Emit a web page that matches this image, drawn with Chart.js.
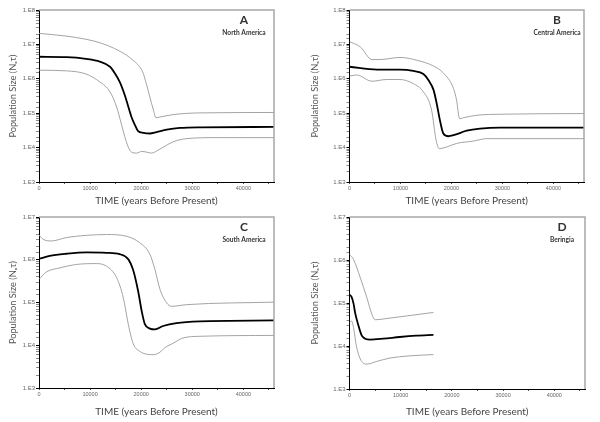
<!DOCTYPE html>
<html>
<head>
<meta charset="utf-8">
<script src="https://cdn.jsdelivr.net/npm/chart.js@4.4.0/dist/chart.umd.min.js"></script>
<style>
  html, body { margin: 0; padding: 0; background: #fff; }
  #wrap { position: relative; width: 600px; height: 422px; }
  canvas { position: absolute; }
</style>
</head>
<body>
<div id="wrap">
  <canvas id="chartA" width="300" height="211" style="left:0;top:0"></canvas>
  <canvas id="chartB" width="300" height="211" style="left:300px;top:0"></canvas>
  <canvas id="chartC" width="300" height="211" style="left:0;top:211px"></canvas>
  <canvas id="chartD" width="300" height="211" style="left:300px;top:211px"></canvas>
</div>
<script>
// A - North America
const timeA_mid = [0, 5400, 9200, 11900, 13900, 14800, 15800, 16800, 17500, 18100, 18800, 19400, 20400, 21700, 23000, 25000, 27600, 31500, 46000];
const sizeA_mid = [4.37e6, 4.27e6, 3.80e6, 3.16e6, 2.24e6, 1.48e6, 8.13e5, 3.31e5, 1.51e5, 7.76e4, 4.47e4, 3.02e4, 2.69e4, 2.57e4, 2.82e4, 3.31e4, 3.72e4, 3.89e4, 3.98e4];
const timeA_hi = [0, 5400, 9200, 11900, 14800, 17100, 18400, 19700, 20400, 21000, 21700, 22400, 22900, 23700, 26300, 31500, 46000];
const sizeA_hi = [2.09e7, 1.74e7, 1.41e7, 1.12e7, 7.59e6, 4.90e6, 3.47e6, 2.24e6, 1.45e6, 7.24e5, 2.95e5, 1.23e5, 7.41e4, 7.76e4, 9.12e4, 1.02e5, 1.05e5];
const timeA_lo = [0, 5400, 9200, 11900, 13900, 15200, 16100, 17000, 17500, 18100, 19100, 20100, 21000, 22000, 23700, 26300, 28900, 34800, 46000];
const sizeA_lo = [1.78e6, 1.70e6, 1.38e6, 8.13e5, 4.17e5, 1.51e5, 5.01e4, 1.62e4, 1.02e4, 7.41e3, 6.92e3, 7.76e3, 7.41e3, 6.92e3, 9.12e3, 1.48e4, 1.82e4, 1.95e4, 1.95e4];

// B - Central America
const timeB_mid = [0, 5400, 9900, 12500, 14500, 15500, 16500, 17100, 17800, 18400, 19400, 20400, 23000, 25600, 29500, 46000];
const sizeB_mid = [2.24e6, 1.86e6, 1.86e6, 1.70e6, 1.38e6, 9.12e5, 4.68e5, 1.91e5, 5.62e4, 2.57e4, 2.14e4, 2.29e4, 3.09e4, 3.55e4, 3.80e4, 3.80e4];
const timeB_hi = [0, 2100, 4400, 6000, 9900, 13200, 16500, 18400, 20400, 21000, 21600, 22400, 25000, 29500, 46000];
const sizeB_hi = [1.20e7, 8.51e6, 3.63e6, 3.63e6, 4.17e6, 3.47e6, 2.34e6, 1.48e6, 5.25e5, 2.40e5, 6.92e4, 7.41e4, 8.71e4, 9.33e4, 9.77e4];
const timeB_lo = [0, 1400, 4400, 7300, 9900, 12500, 14500, 16100, 17000, 17600, 19100, 21000, 24300, 26900, 46000];
const sizeB_lo = [1.20e6, 1.29e6, 8.51e5, 9.55e5, 9.55e5, 7.24e5, 4.17e5, 1.23e5, 1.62e4, 9.33e3, 1.05e4, 1.32e4, 1.55e4, 1.82e4, 1.82e4];

// C - South America
const timeC_mid = [0, 2100, 5400, 9300, 13200, 15800, 17500, 18400, 19400, 20100, 20700, 21700, 22700, 24300, 26900, 31500, 46000];
const sizeC_mid = [1.05e6, 1.23e6, 1.38e6, 1.48e6, 1.45e6, 1.35e6, 1.02e6, 5.89e5, 1.86e5, 6.31e4, 3.16e4, 2.45e4, 2.34e4, 2.82e4, 3.31e4, 3.63e4, 3.80e4];
const timeC_hi = [0, 800, 2400, 5400, 9300, 13200, 17100, 19700, 21700, 22700, 23700, 25000, 25900, 28900, 46000];
const sizeC_hi = [3.80e6, 3.02e6, 2.75e6, 3.31e6, 3.72e6, 3.89e6, 3.55e6, 2.51e6, 1.35e6, 5.89e5, 2.00e5, 9.77e4, 8.13e4, 8.91e4, 1.02e5];
const timeC_lo = [0, 1400, 4100, 7300, 11200, 13200, 15200, 16500, 17500, 18400, 19700, 22400, 23700, 24600, 26300, 28200, 31500, 46000];
const sizeC_lo = [3.47e5, 5.13e5, 6.46e5, 7.76e5, 8.13e5, 7.08e5, 3.80e5, 1.29e5, 3.02e4, 1.12e4, 7.24e3, 6.03e3, 6.92e3, 8.71e3, 1.12e4, 1.48e4, 1.62e4, 1.70e4];

// D - Beringia
const timeD_mid = [0, 400, 800, 1100, 1760, 2400, 3070, 4000, 6600, 9800, 13000, 16400];
const sizeD_mid = [1.55e5, 1.38e5, 9.55e4, 5.89e4, 2.95e4, 1.74e4, 1.48e4, 1.41e4, 1.48e4, 1.62e4, 1.74e4, 1.82e4];
const timeD_hi = [0, 800, 2100, 3400, 4400, 5000, 7300, 11200, 16400];
const sizeD_hi = [1.35e6, 1.02e6, 3.89e5, 1.32e5, 5.37e4, 4.07e4, 4.37e4, 5.01e4, 6.03e4];
const timeD_lo = [0, 400, 1450, 2100, 2700, 3400, 5300, 7900, 11700, 16400];
const sizeD_lo = [3.55e4, 3.80e4, 8.71e3, 5.01e3, 3.98e3, 3.80e3, 4.37e3, 5.25e3, 5.89e3, 6.31e3];

const timeMax = 46000;
const timeTicks = [0, 5000, 10000, 15000, 20000, 25000, 30000, 35000, 40000, 45000];

function series(times, sizes, color, width) {
    return {
        data: times.map((t, i) => ({ x: t, y: sizes[i] })),
        borderColor: color,
        borderWidth: width,
        pointRadius: 0,
        fill: false,
        cubicInterpolationMode: "monotone"
    };
}

function isDecade(v) {
    const e = Math.log10(v);
    return Math.abs(e - Math.round(e)) < 1e-6;
}

// grey frame on top and right, plus the panel letter and region
const panelDecor = {
    id: "panelDecor",
    afterDraw(chart, args, opts) {
        const { ctx, chartArea: a } = chart;
        ctx.save();
        ctx.strokeStyle = "#a8a8a8";
        ctx.lineWidth = 1.5;
        ctx.beginPath();
        ctx.moveTo(a.left, a.top);
        ctx.lineTo(a.right, a.top);
        ctx.lineTo(a.right, a.bottom);
        ctx.stroke();
        ctx.fillStyle = "#333";
        ctx.textAlign = "center";
        ctx.textBaseline = "middle";
        const cx = a.right - opts.dx;
        ctx.font = "bold 12px Lato, sans-serif";
        ctx.fillText(opts.letter, cx, a.top + opts.dy);
        ctx.font = "bold 6.6px Lato, sans-serif";
        ctx.fillText(opts.name, cx, a.top + opts.dy + 12.5);
        ctx.restore();
    }
};

function makeChart(id, p) {
    const ctx = document.getElementById(id).getContext("2d");
    return new Chart(ctx, {
        type: "line",
        data: {
            datasets: [
                series(p.mid[0], p.mid[1], "#000000", 1.8),
                series(p.hi[0], p.hi[1], "#9a9a9a", 0.9),
                series(p.lo[0], p.lo[1], "#9a9a9a", 0.9)
            ]
        },
        options: {
            responsive: false,
            animation: false,
            devicePixelRatio: 1,
            layout: { padding: { top: p.top, right: p.right, left: 0, bottom: 0 } },
            plugins: {
                legend: { display: false },
                tooltip: { enabled: false },
                panelDecor: { letter: p.letter, name: p.name, dx: p.dx, dy: 10 }
            },
            scales: {
                x: {
                    type: "linear",
                    min: 0,
                    max: timeMax,
                    afterFit: s => { s.height = p.xh; },
                    afterBuildTicks: s => { s.ticks = timeTicks.map(v => ({ value: v })); },
                    border: { color: "#000", width: 1 },
                    grid: { drawOnChartArea: false, tickLength: 2, tickColor: "#555" },
                    ticks: {
                        autoSkip: false,
                        maxRotation: 0,
                        padding: 1,
                        color: "#666",
                        font: { family: "'Liberation Sans', sans-serif", size: 5.5 },
                        callback: v => (v % 10000 === 0 ? String(v) : "")
                    },
                    title: {
                        display: true,
                        text: "TIME (years Before Present)",
                        color: "#444",
                        font: { family: "Lato, sans-serif", size: 10 },
                        padding: { top: 0, bottom: p.xtp }
                    }
                },
                y: {
                    type: "logarithmic",
                    min: 1e3,
                    max: p.yMax,
                    afterFit: s => { s.width = p.left; },
                    border: { color: "#000", width: 1 },
                    grid: {
                        drawOnChartArea: false,
                        tickLength: 3,
                        tickColor: c => (c.tick && isDecade(c.tick.value) ? "#000" : "#888")
                    },
                    ticks: {
                        autoSkip: false,
                        padding: 1,
                        color: "#666",
                        font: { family: "'Liberation Sans', sans-serif", size: 6 },
                        callback: v => (isDecade(v) ? "1.E" + Math.round(Math.log10(v)) : "")
                    },
                    title: {
                        display: true,
                        text: "Population Size (N\u2091\u03c4)",
                        color: "#555",
                        font: { family: "Lato, sans-serif", size: 9.2 },
                        padding: { top: p.ytp, bottom: 0 }
                    }
                }
            }
        },
        plugins: [panelDecor]
    });
}

makeChart("chartA", { mid: [timeA_mid, sizeA_mid], hi: [timeA_hi, sizeA_hi], lo: [timeA_lo, sizeA_lo],
    yMax: 1e8, left: 39, top: 10, right: 26, xh: 29, xtp: 4, ytp: 7.5, letter: "A", name: "North America", dx: 30 });
makeChart("chartB", { mid: [timeB_mid, sizeB_mid], hi: [timeB_hi, sizeB_hi], lo: [timeB_lo, sizeB_lo],
    yMax: 1e8, left: 49.5, top: 10, right: 16, xh: 29, xtp: 4, ytp: 9.5, letter: "B", name: "Central America", dx: 27 });
makeChart("chartC", { mid: [timeC_mid, sizeC_mid], hi: [timeC_hi, sizeC_hi], lo: [timeC_lo, sizeC_lo],
    yMax: 1e7, left: 39, top: 6, right: 26, xh: 34, xtp: 4, ytp: 7.5, letter: "C", name: "South America", dx: 30 });
makeChart("chartD", { mid: [timeD_mid, sizeD_mid], hi: [timeD_hi, sizeD_hi], lo: [timeD_lo, sizeD_lo],
    yMax: 1e7, left: 49.5, top: 6, right: 15, xh: 33, xtp: 4, ytp: 9.5, letter: "D", name: "Beringia", dx: 23 });
</script>
</body>
</html>
